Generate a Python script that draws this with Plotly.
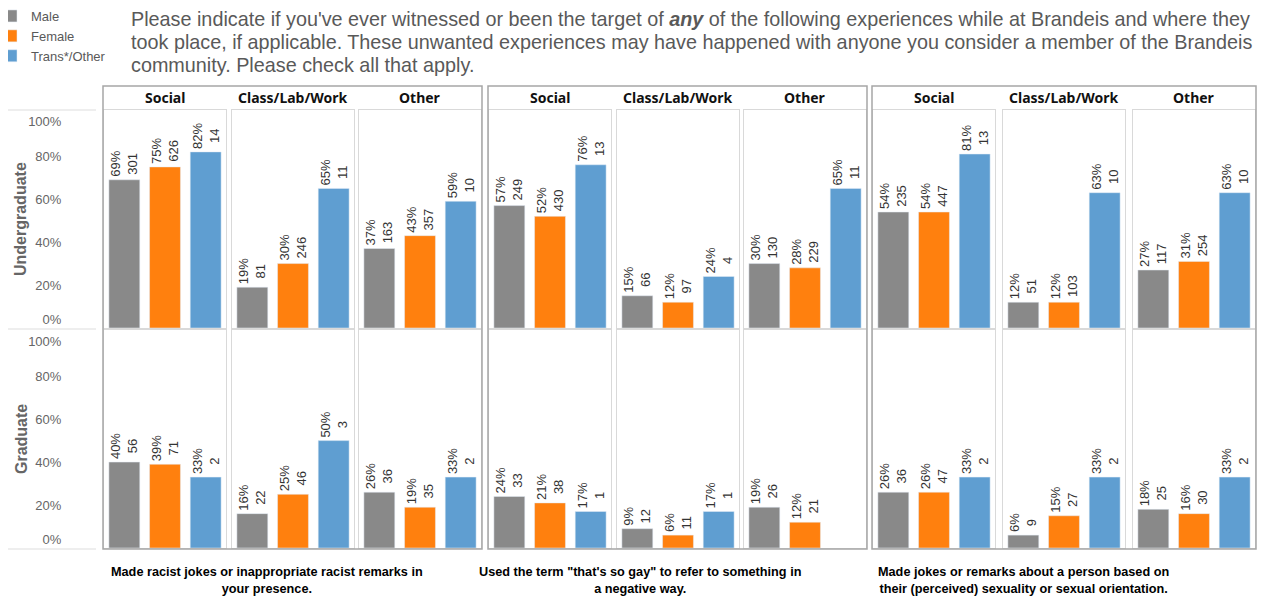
import plotly.graph_objects as go

# the page body has an 8px margin, so the figure is sized to fill the rest
OFF = 8
W, H = 1265 - OFF, 600 - OFF

GENDERS = ["Male", "Female", "Trans*/Other"]
COLORS = ["#898989", "#FF800E", "#5F9ED1"]
LOCATIONS = ["Social", "Class/Lab/Work", "Other"]
LEVELS = ["Undergraduate", "Graduate"]
EXPERIENCES = [
    "Made racist jokes or inappropriate racist remarks in<br>your presence.",
    "Used the term \"that's so gay\" to refer to something in<br>a negative way.",
    "Made jokes or remarks about a person based on<br>their (perceived) sexuality or sexual orientation.",
]
TITLE_LINES = [
    "Please indicate if you've ever witnessed or been the target of <b><i>any</i></b> "
    "of the following experiences while at Brandeis and where they",
    "took place, if applicable. These unwanted experiences may have happened with "
    "anyone you consider a member of the Brandeis",
    "community. Please check all that apply.",
]

# rows = location (Social, Class/Lab/Work, Other), cols = gender
racist_ug_pct = [[69, 75, 82], [19, 30, 65], [37, 43, 59]]
racist_ug_n = [[301, 626, 14], [81, 246, 11], [163, 357, 10]]
racist_gr_pct = [[40, 39, 33], [16, 25, 50], [26, 19, 33]]
racist_gr_n = [[56, 71, 2], [22, 46, 3], [36, 35, 2]]

gay_ug_pct = [[57, 52, 76], [15, 12, 24], [30, 28, 65]]
gay_ug_n = [[249, 430, 13], [66, 97, 4], [130, 229, 11]]
gay_gr_pct = [[24, 21, 17], [9, 6, 17], [19, 12, None]]
gay_gr_n = [[33, 38, 1], [12, 11, 1], [26, 21, None]]

sex_ug_pct = [[54, 54, 81], [12, 12, 63], [27, 31, 63]]
sex_ug_n = [[235, 447, 13], [51, 103, 10], [117, 254, 10]]
sex_gr_pct = [[26, 26, 33], [6, 15, 33], [18, 16, 33]]
sex_gr_n = [[36, 47, 2], [9, 27, 2], [25, 30, 2]]

Y_TICKS = [0, 20, 40, 60, 80, 100]
# end labels are nudged inward (like the original) so the two rows don't collide
Y_TEXT = ["0%<br> ", "20%", "40%", "60%", "80%", " <br>100%"]

panels = [
    [(racist_ug_pct, racist_ug_n), (racist_gr_pct, racist_gr_n)],
    [(gay_ug_pct, gay_ug_n), (gay_gr_pct, gay_gr_n)],
    [(sex_ug_pct, sex_ug_n), (sex_gr_pct, sex_gr_n)],
]

# layout geometry in screen pixels
PANEL_LEFT = [104, 232, 359, 489, 617, 744, 873, 1003, 1133]
PANEL_W = 122
ROW_TOP = [110, 330]
ROW_H = 218
FRAME_TOP, FRAME_BOTTOM = 86, 549
BORDER = "#d9d9d9"
FRAME = "#a6a6a6"
LABEL_FONT = "Liberation Sans, Arial, sans-serif"


def fx(v):
    return (v - OFF) / W


def fy(v):
    return 1 - (v - OFF) / H


fig = go.Figure()
layout_axes = {}

for r in range(2):
    for g in range(3):
        pct, cnt = panels[g][r]
        for c in range(3):
            k = r * 9 + g * 3 + c + 1
            sfx = "" if k == 1 else str(k)
            for i, gender in enumerate(GENDERS):
                val = pct[c][i]
                txt = "" if val is None else f"{val}%<br>{cnt[c][i]}"
                fig.add_trace(go.Bar(
                    x=[gender], y=[val], text=[txt],
                    name=gender, legendgroup=gender, showlegend=(k == 1),
                    marker_color=COLORS[i],
                    textposition="outside", textangle=-90,
                    constraintext="none", cliponaxis=False,
                    textfont=dict(family=LABEL_FONT, size=13, color="#333333"),
                    xaxis="x" + sfx, yaxis="y" + sfx,
                ))
            left = PANEL_LEFT[g * 3 + c]
            top = ROW_TOP[r]
            first_col = (g == 0 and c == 0)
            layout_axes["xaxis" + sfx] = dict(
                domain=[fx(left), fx(left + PANEL_W)], anchor="y" + sfx,
                type="category", categoryorder="array", categoryarray=GENDERS,
                range=[-0.5, 2.5], showticklabels=False, ticks="",
                showline=True, mirror=True, linecolor=BORDER, linewidth=1,
                showgrid=False, zeroline=False, fixedrange=True,
            )
            layout_axes["yaxis" + sfx] = dict(
                domain=[fy(top + ROW_H), fy(top)], anchor="x" + sfx,
                range=[0, 101.5], tickmode="array", tickvals=Y_TICKS,
                ticktext=Y_TEXT,
                showticklabels=first_col, ticks="",
                ticklabelstandoff=39,
                tickfont=dict(family=LABEL_FONT, size=13, color="#666666"),
                showline=True, mirror=True, linecolor=BORDER, linewidth=1,
                showgrid=False, zeroline=False, fixedrange=True,
            )

shapes = []
for g in range(3):
    x0 = PANEL_LEFT[g * 3] - 1
    x1 = PANEL_LEFT[g * 3 + 2] + PANEL_W + 1
    shapes.append(dict(type="rect", xref="paper", yref="paper",
                       x0=fx(x0), x1=fx(x1), y0=fy(FRAME_BOTTOM), y1=fy(FRAME_TOP),
                       line=dict(color=FRAME, width=1.5)))
for yy in [110, 329, 549]:
    shapes.append(dict(type="line", xref="paper", yref="paper",
                       x0=fx(8), x1=fx(96), y0=fy(yy), y1=fy(yy),
                       line=dict(color="#dddddd", width=1)))

annotations = []
for g in range(3):
    for c in range(3):
        left = PANEL_LEFT[g * 3 + c]
        annotations.append(dict(
            text=f"<b>{LOCATIONS[c]}</b>", xref="paper", yref="paper",
            x=fx(left + PANEL_W / 2), y=fy(97), showarrow=False,
            xanchor="center", yanchor="middle",
            font=dict(family="Noto Sans, DejaVu Sans, sans-serif", size=14, color="#111111"),
        ))

for r, yc in enumerate([219, 439]):
    annotations.append(dict(
        text=f"<b>{LEVELS[r]}</b>", xref="paper", yref="paper",
        x=fx(21), y=fy(yc), showarrow=False, textangle=-90,
        xanchor="center", yanchor="middle",
        font=dict(family=LABEL_FONT, size=16, color="#666666"),
    ))

for g, xc in enumerate([267, 640, 1023]):
    annotations.append(dict(
        text=f"<b>{EXPERIENCES[g]}</b>", xref="paper", yref="paper",
        x=fx(xc), y=fy(563), showarrow=False,
        xanchor="center", yanchor="top", align="center",
        font=dict(family="Liberation Sans Narrow, Arial Narrow, Liberation Sans, Arial, sans-serif",
                  size=12.7, color="#000000"),
    ))

for j, (line, yc) in enumerate(zip(TITLE_LINES, [19, 42, 65])):
    annotations.append(dict(
        text=line, xref="paper", yref="paper",
        x=fx(129), y=fy(yc), showarrow=False,
        xanchor="left", yanchor="middle", align="left",
        font=dict(family=LABEL_FONT, size=19.8, color="#595959"),
    ))

fig.update_layout(
    width=W, height=H,
    margin=dict(l=0, r=0, t=0, b=0, autoexpand=False),
    paper_bgcolor="white", plot_bgcolor="white",
    barmode="overlay", bargap=0.24,
    showlegend=True,
    legend=dict(x=fx(-9), y=fy(1), xanchor="left", yanchor="top",
                font=dict(family=LABEL_FONT, size=13, color="#595959"),
                bgcolor="rgba(0,0,0,0)", tracegroupgap=0),
    shapes=shapes, annotations=annotations,
    **layout_axes,
)

fig.write_html("out.html")
